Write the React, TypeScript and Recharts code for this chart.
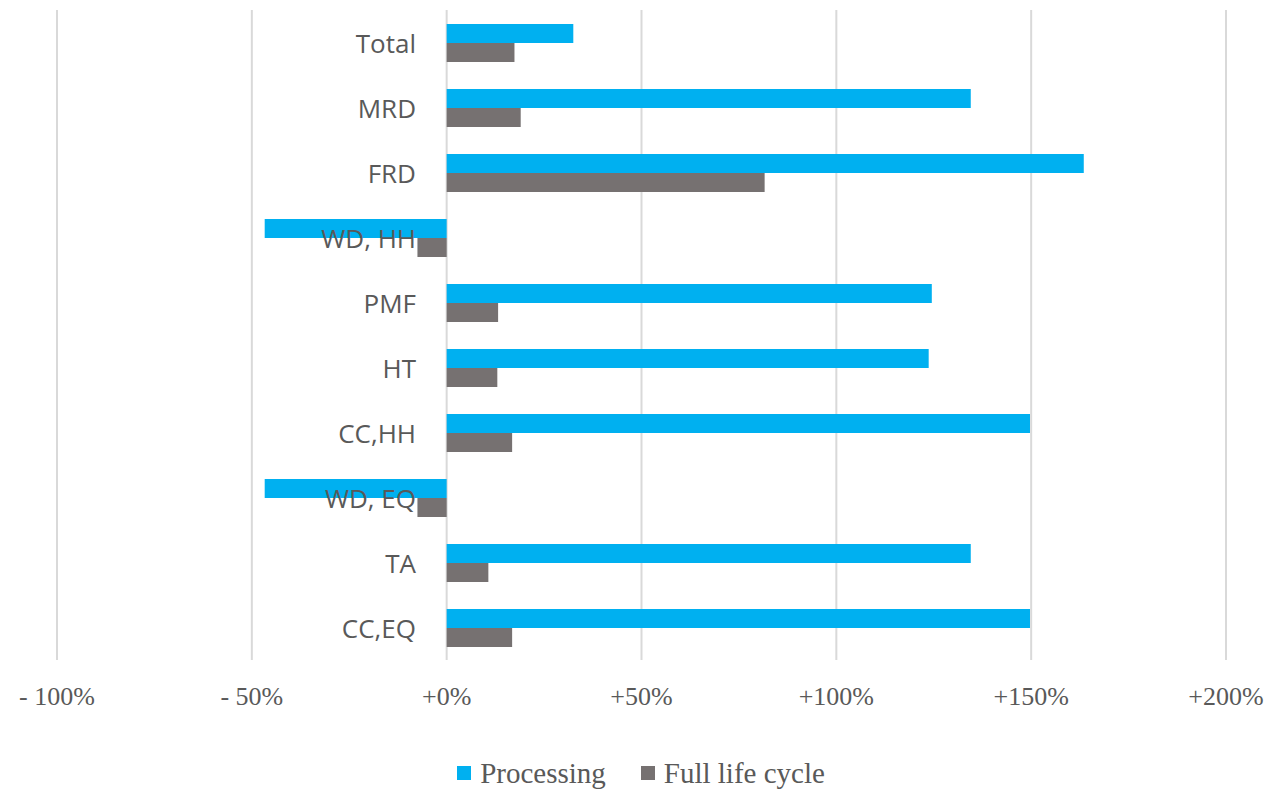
import React from 'react';
import { BarChart, Bar, XAxis, YAxis, CartesianGrid, Legend } from 'recharts';

const categories = ['Total', 'MRD', 'FRD', 'WD, HH', 'PMF', 'HT', 'CC,HH', 'WD, EQ', 'TA', 'CC,EQ'];
const processing = [32.5, 134.5, 163.5, -46.7, 124.5, 123.7, 149.7, -46.7, 134.5, 149.7];
const fullLifeCycle = [17.4, 19, 81.6, -7.5, 13.2, 13, 16.8, -7.5, 10.7, 16.8];
const xTicks = [-100, -50, 0, 50, 100, 150, 200];
const seriesNames = ['Processing', 'Full life cycle'];
const colors = ['#00B0F0', '#767171'];

const data = categories.map((name, i) => ({
  name,
  processing: processing[i],
  full: fullLifeCycle[i],
}));

const W = 1279;
const H = 790;
const margin = { top: 10, right: 53, left: 56, bottom: 0 };
const domainMin = -100;
const domainMax = 200;
const plotWidth = W - margin.left - margin.right;
const zeroOffset = (plotWidth * (0 - domainMin)) / (domainMax - domainMin);

const fmt = (v: number) => (v < 0 ? `- ${Math.abs(v)}%` : `+${v}%`);

const renderCategoryTick = (props: any) => {
  const { y, payload } = props;
  return (
    <text
      x={margin.left + zeroOffset - 30}
      y={y}
      textAnchor="end"
      dominantBaseline="central"
      fontFamily="'Open Sans', sans-serif"
      fontSize={26}
      fill="#595959"
    >
      {payload.value}
    </text>
  );
};

const LegendContent = () => (
  <div style={{ display: 'flex', justifyContent: 'center', alignItems: 'center', fontFamily: "'Liberation Serif', serif", fontSize: 29, color: '#595959', lineHeight: '30px' }}>
    {seriesNames.map((n, i) => (
      <div key={n} style={{ display: 'flex', alignItems: 'center', marginRight: i === 0 ? 35 : 0 }}>
        <span style={{ display: 'inline-block', width: 14, height: 14, background: colors[i], marginRight: 9 }} />
        <span>{n}</span>
      </div>
    ))}
  </div>
);

export default function App() {
  return (
    <div style={{ position: 'absolute', left: 0, top: 0, background: '#fff' }}>
      <BarChart
        width={W}
        height={H}
        data={data}
        layout="vertical"
        margin={margin}
        barCategoryGap={14}
        barGap={0}
      >
        <CartesianGrid horizontal={false} stroke="#d9d9d9" strokeWidth={2} />
        <XAxis
          type="number"
          domain={[domainMin, domainMax]}
          ticks={xTicks}
          tickFormatter={fmt}
          axisLine={false}
          tickLine={false}
          tickSize={0}
          tickMargin={27}
          height={100}
          interval={0}
          tick={{ fontFamily: "'Liberation Serif', serif", fontSize: 26, fill: '#595959' }}
        />
        <YAxis
          type="category"
          dataKey="name"
          width={1}
          axisLine={false}
          tickLine={false}
          tick={renderCategoryTick}
          interval={0}
        />
        <Bar dataKey="processing" name={seriesNames[0]} fill={colors[0]} isAnimationActive={false} />
        <Bar dataKey="full" name={seriesNames[1]} fill={colors[1]} isAnimationActive={false} />
        <Legend verticalAlign="bottom" height={30} content={<LegendContent />} wrapperStyle={{ bottom: 2 }} />
      </BarChart>
    </div>
  );
}
